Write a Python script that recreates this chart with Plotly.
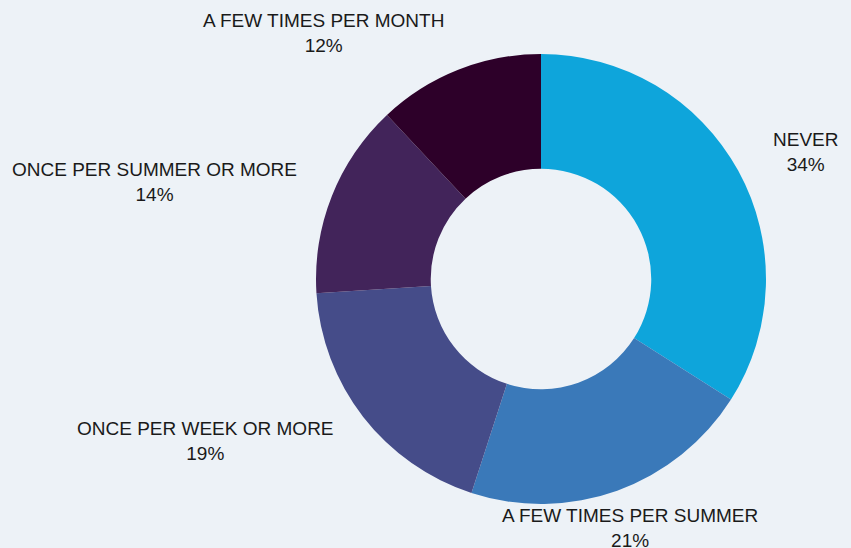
import plotly.graph_objects as go

categories = ["NEVER", "A FEW TIMES PER SUMMER", "ONCE PER WEEK OR MORE",
              "ONCE PER SUMMER OR MORE", "A FEW TIMES PER MONTH"]
values = [34, 21, 19, 14, 12]
colors = ["#0EA5DB", "#3A79B9", "#454C89", "#42245A", "#2D0029"]

W, H = 851, 548
# label block centers in pixels (layout only)
label_pos = [(805, 152), (630, 528), (205, 441), (154, 182), (323, 33)]

fig = go.Figure()
fig.add_trace(go.Pie(
    labels=categories,
    values=values,
    marker=dict(colors=colors, line=dict(width=0)),
    hole=0.49,
    sort=False,
    direction="clockwise",
    rotation=0,
    textinfo="none",
    hoverinfo="label+percent",
    showlegend=False,
    domain=dict(x=[316 / W, 766 / W], y=[44 / H, 494 / H]),
))

for cat, val, (px, py) in zip(categories, values, label_pos):
    fig.add_annotation(
        x=px / W, y=1 - py / H, xref="paper", yref="paper",
        text=f"{cat}<br>{val}%", showarrow=False,
        xanchor="center", yanchor="middle", align="center",
        font=dict(family="Liberation Sans, Arial, sans-serif", size=19, color="#1A1A1A"),
    )

fig.update_layout(
    width=W, height=H,
    margin=dict(l=0, r=0, t=0, b=0),
    paper_bgcolor="#EDF2F7",
    plot_bgcolor="#EDF2F7",
)

fig.write_html(
    "out.html",
    config={"displayModeBar": False},
    post_script="document.body.style.margin='0';document.body.style.overflow='hidden';"
                "document.body.style.background='#EDF2F7';",
)
